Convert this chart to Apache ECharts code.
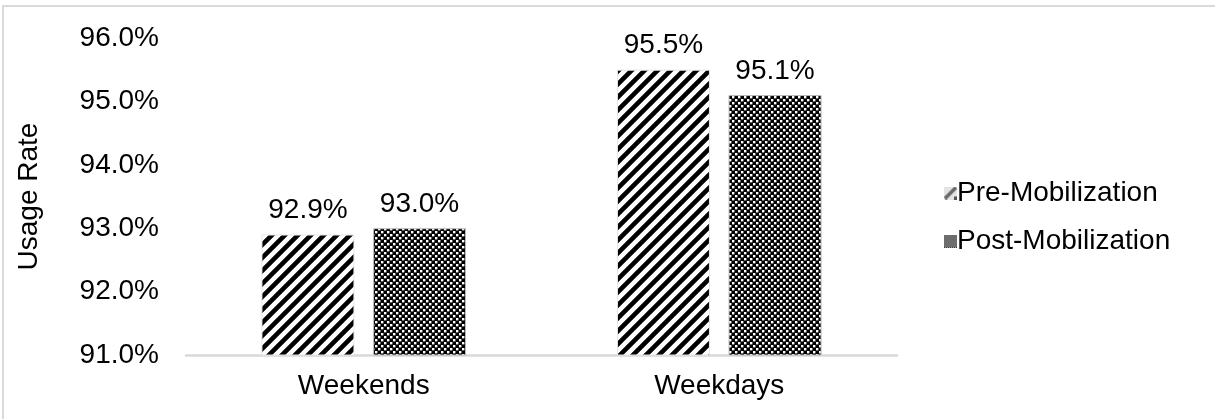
<!DOCTYPE html>
<html>
<head>
<meta charset="utf-8">
<script src="https://cdn.jsdelivr.net/npm/echarts@6/dist/echarts.min.js"></script>
<style>
  html, body { margin: 0; padding: 0; background: #fff; }
  #chart { width: 1215px; height: 419px; }
</style>
</head>
<body>
<div id="chart"></div>
<script>
// Usage rate before and after mobilization, by day type
const categories = ['Weekends', 'Weekdays'];
const preMobilization = [92.9, 95.5];
const postMobilization = [93.0, 95.1];
const seriesNames = ['Pre-Mobilization', 'Post-Mobilization'];

const FONT = '"Liberation Sans", Arial, sans-serif';
const FS = 28;

// Wide diagonal hatch ( / ) used for the first series
function stripePattern() {
  const s = 13;
  const c = document.createElement('canvas');
  c.width = s; c.height = s;
  const g = c.getContext('2d');
  g.fillStyle = '#fff';
  g.fillRect(0, 0, s, s);
  g.strokeStyle = '#000';
  g.lineWidth = 4.6;
  g.beginPath();
  for (let k = -1; k <= 1; k++) {
    g.moveTo(-2 + k * s, s + 2);
    g.lineTo(s + 2 + k * s, -2);
  }
  g.stroke();
  return { image: c, repeat: 'repeat' };
}

// Fine checkerboard used for the second series
function checkerPattern() {
  const cell = 3;
  const c = document.createElement('canvas');
  c.width = cell * 2; c.height = cell * 2;
  const g = c.getContext('2d');
  g.fillStyle = '#000';
  g.fillRect(0, 0, cell * 2, cell * 2);
  g.fillStyle = '#fff';
  g.fillRect(0, 0, cell - 0.6, cell - 0.6);
  g.fillRect(cell, cell, cell - 0.6, cell - 0.6);
  return { image: c, repeat: 'repeat' };
}

// Small legend swatches (downscaled versions of the bar fills)
function stripeIcon() {
  const s = 13;
  const c = document.createElement('canvas');
  c.width = s; c.height = s;
  const g = c.getContext('2d');
  g.fillStyle = '#e4e4e4';
  g.fillRect(0, 0, s, s);
  g.strokeStyle = '#6a6a6a';
  g.lineWidth = 3.5;
  g.beginPath();
  g.moveTo(1, s - 1);
  g.lineTo(s - 1, 1);
  g.stroke();
  g.fillStyle = '#555';
  g.fillRect(s - 3, s - 3, 3, 3);
  return 'image://' + c.toDataURL();
}

function checkerIcon() {
  const s = 13;
  const c = document.createElement('canvas');
  c.width = s; c.height = s;
  const g = c.getContext('2d');
  for (let y = 0; y < s; y++) {
    for (let x = 0; x < s; x++) {
      g.fillStyle = (x + y) % 2 === 0 ? '#3a3a3a' : '#a0a0a0';
      g.fillRect(x, y, 1, 1);
    }
  }
  return 'image://' + c.toDataURL();
}

const chart = echarts.init(document.getElementById('chart'), null, { renderer: 'canvas' });

const labelStyle = {
  show: true,
  position: 'top',
  distance: 10,
  color: '#000',
  fontSize: FS,
  fontFamily: FONT,
  formatter: p => p.value.toFixed(1) + '%'
};

chart.setOption({
  animation: false,
  backgroundColor: '#fff',
  graphic: [{
    type: 'rect',
    shape: { x: 3, y: 6, width: 1300, height: 500 },
    style: { fill: 'none', stroke: '#d9d9d9', lineWidth: 2 },
    silent: true
  }],
  grid: { left: 186, right: 318, top: 38, bottom: 64 },
  legend: {
    orient: 'vertical',
    left: 939,
    top: 174,
    itemWidth: 13,
    itemHeight: 13,
    itemGap: 20,
    textStyle: { color: '#000', fontSize: FS, fontFamily: FONT, padding: [0, 0, 0, -5] },
    data: [
      { name: seriesNames[0], icon: stripeIcon() },
      { name: seriesNames[1], icon: checkerIcon() }
    ]
  },
  xAxis: {
    type: 'category',
    data: categories,
    axisLine: { lineStyle: { color: '#d9d9d9', width: 2.5 } },
    axisTick: { show: false },
    axisLabel: { color: '#000', fontSize: FS, fontFamily: FONT, margin: 17 }
  },
  yAxis: {
    type: 'value',
    min: 91,
    max: 96,
    interval: 1,
    name: 'Usage Rate',
    nameLocation: 'middle',
    nameGap: 143,
    nameTextStyle: { color: '#000', fontSize: FS, fontFamily: FONT },
    axisLine: { show: false },
    axisTick: { show: false },
    splitLine: { show: false },
    axisLabel: {
      color: '#000',
      fontSize: FS,
      fontFamily: FONT,
      margin: 27,
      formatter: v => v.toFixed(1) + '%'
    }
  },
  series: [
    {
      name: seriesNames[0],
      type: 'bar',
      data: preMobilization,
      barWidth: 93,
      barGap: '20%',
      itemStyle: { color: stripePattern(), borderColor: '#e6e6e6', borderWidth: 1 },
      label: labelStyle
    },
    {
      name: seriesNames[1],
      type: 'bar',
      data: postMobilization,
      barWidth: 93,
      barGap: '20%',
      itemStyle: { color: checkerPattern(), borderColor: '#bbbbbb', borderWidth: 1 },
      label: labelStyle
    }
  ]
});
</script>
</body>
</html>
